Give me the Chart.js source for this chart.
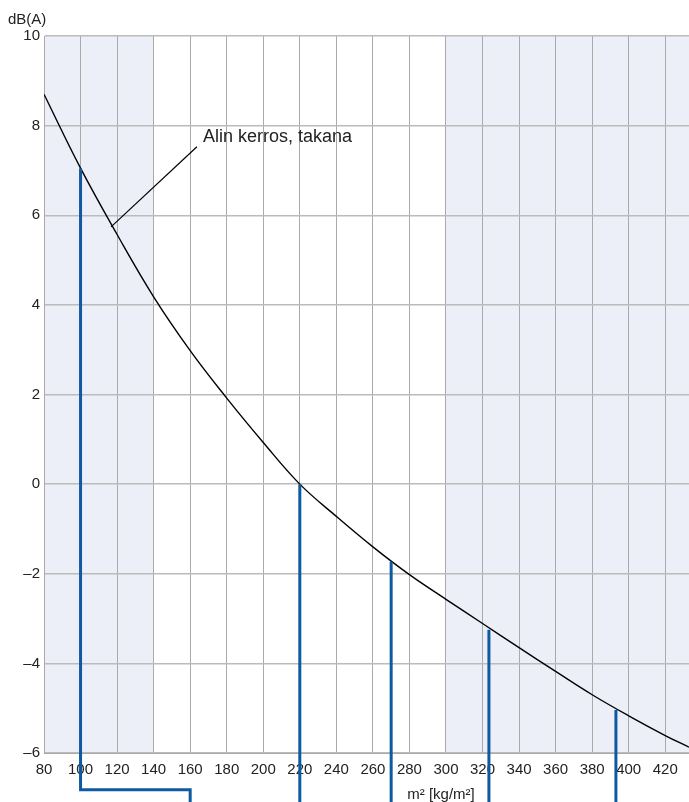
<!DOCTYPE html>
<html>
<head>
<meta charset="utf-8">
<script src="https://cdn.jsdelivr.net/npm/chart.js@4.4.1/dist/chart.umd.min.js"></script>
<style>
  body { margin: 0; background: #fff; }
  #chart { display: block; }
</style>
</head>
<body>
<canvas id="chart" width="689" height="802"></canvas>
<script>
// curve: "Alin kerros, takana"
const massValues = [80, 100, 120, 140, 160, 180, 200, 220, 240, 260, 280, 300, 320, 340, 360, 380, 400, 420, 433];
const dbValues = [8.7, 7.05, 5.57, 4.18, 2.98, 1.92, 0.93, 0, -0.72, -1.4, -2.02, -2.57, -3.11, -3.65, -4.18, -4.7, -5.17, -5.61, -5.87];

// blue drop lines
const stemX = [220, 270, 323.5, 393];
const stemTop = [0, -1.73, -3.25, -5.04];
const stemBottom = -7.2;
const bentX = [100, 100, 160, 160];
const bentY = [7.05, -6.82, -6.82, -7.2];

// leader line for the label
const leaderX = [116.7, 163.7];
const leaderY = [5.74, 7.53];
const labelText = "Alin kerros, takana";
const labelPos = [167, 7.74];

// shaded bands
const bands = [[80, 140], [300, 433]];

const xMin = 80, xMax = 433, yMin = -6, yMax = 10;
const yAxisTitle = "dB(A)";
const xAxisTitle = "m\u00b2 [kg/m\u00b2]";

const FONT = "'Liberation Sans', Arial, sans-serif";
const BLUE = "#0d5aa0";

const datasets = [];
stemX.forEach((x, i) => {
  datasets.push({
    data: [{ x: x, y: stemTop[i] }, { x: x, y: stemBottom }],
    borderColor: BLUE,
    borderWidth: 3,
    pointRadius: 0,
    showLine: true,
    clip: false,
  });
});
datasets.push({
  data: bentX.map((x, i) => ({ x: x, y: bentY[i] })),
  borderColor: BLUE,
  borderWidth: 3,
  pointRadius: 0,
  showLine: true,
  clip: false,
});
datasets.push({
  data: leaderX.map((x, i) => ({ x: x, y: leaderY[i] })),
  borderColor: "#000",
  borderWidth: 1.2,
  pointRadius: 0,
  showLine: true,
});
datasets.push({
  data: massValues.map((x, i) => ({ x: x, y: dbValues[i] })),
  borderColor: "#000",
  borderWidth: 1.4,
  pointRadius: 0,
  showLine: true,
  tension: 0.4,
});

const bandPlugin = {
  id: "bands",
  beforeDraw(chart) {
    const { ctx, chartArea, scales } = chart;
    ctx.save();
    ctx.fillStyle = "#eceff7";
    bands.forEach(b => {
      const x1 = scales.x.getPixelForValue(b[0]);
      const x2 = scales.x.getPixelForValue(b[1]);
      ctx.fillRect(x1, chartArea.top, x2 - x1, chartArea.bottom - chartArea.top);
    });
    ctx.restore();
  },
};

const textPlugin = {
  id: "texts",
  afterDraw(chart) {
    const { ctx, scales } = chart;
    ctx.save();
    ctx.fillStyle = "#222";
    ctx.font = "15px " + FONT;
    ctx.textBaseline = "middle";
    ctx.textAlign = "left";
    ctx.fillText(yAxisTitle, 8, 20);
    ctx.textAlign = "center";
    ctx.font = "15px " + FONT;
    ctx.fillText(xAxisTitle, 441, 795);
    ctx.textAlign = "left";
    ctx.font = "18px " + FONT;
    ctx.fillText(labelText, scales.x.getPixelForValue(labelPos[0]), scales.y.getPixelForValue(labelPos[1]));
    ctx.restore();
  },
};

new Chart(document.getElementById("chart"), {
  type: "scatter",
  data: { datasets: datasets },
  plugins: [bandPlugin, textPlugin],
  options: {
    responsive: false,
    animation: false,
    devicePixelRatio: 1,
    layout: { padding: { top: 36, left: 0, right: 0, bottom: 0 } },
    plugins: { legend: { display: false }, tooltip: { enabled: false } },
    scales: {
      x: {
        type: "linear",
        min: xMin,
        max: xMax,
        afterFit(scale) { scale.height = 49; },
        border: { color: "#aaa" },
        grid: { color: "#aaa", lineWidth: 1, drawTicks: false },
        ticks: {
          stepSize: 20,
          includeBounds: false,
          autoSkip: false,
          maxRotation: 0,
          padding: 8,
          color: "#222",
          font: { family: FONT, size: 15 },
        },
      },
      y: {
        min: yMin,
        max: yMax,
        afterFit(scale) { scale.width = 44; },
        border: { color: "#aaa" },
        grid: { color: "#bbb", lineWidth: 1.5, drawTicks: false },
        ticks: {
          stepSize: 2,
          padding: 4,
          color: "#222",
          font: { family: FONT, size: 15 },
          callback: v => String(v).replace("-", "\u2013"),
        },
      },
    },
  },
});
</script>
</body>
</html>
